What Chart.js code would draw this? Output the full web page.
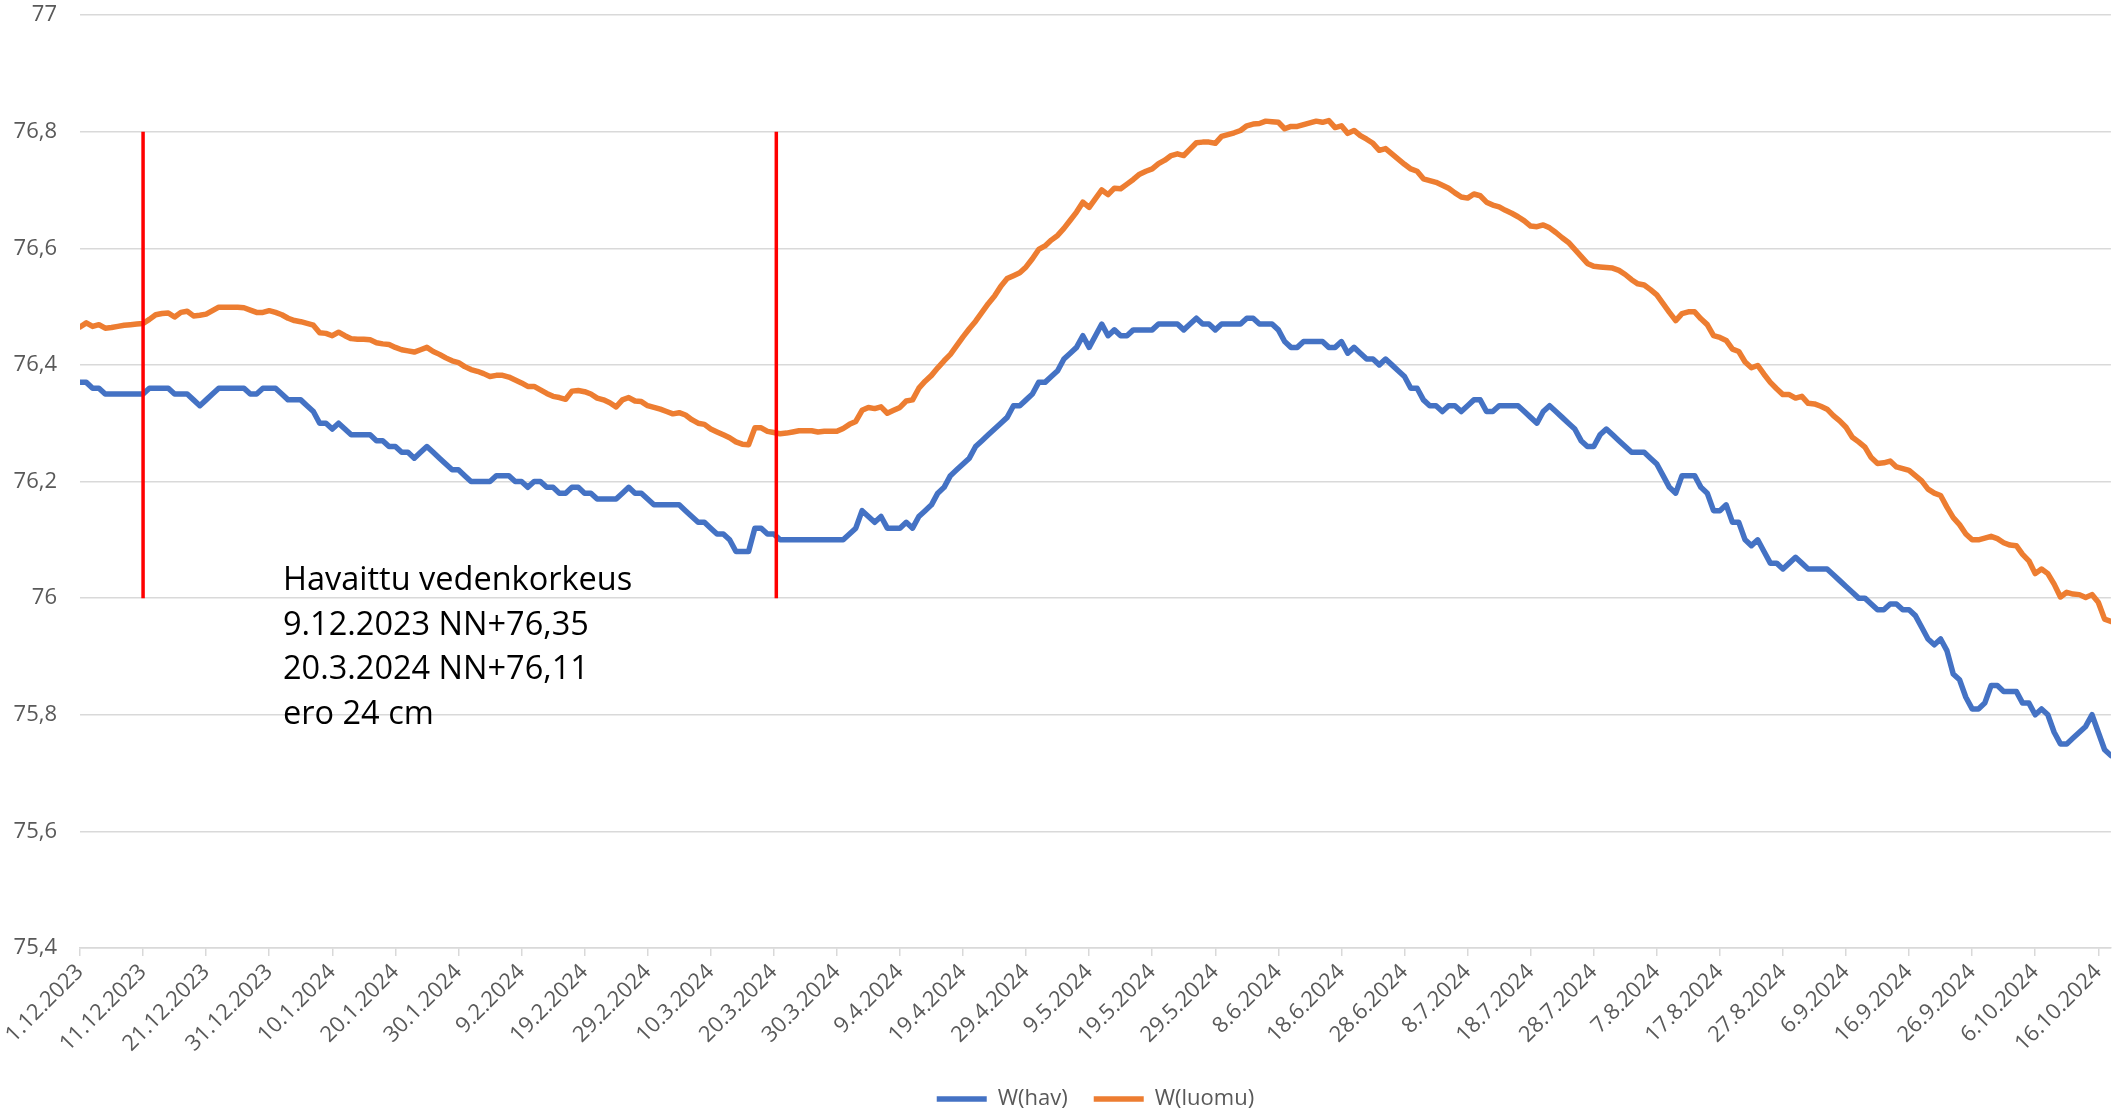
<!DOCTYPE html>
<html>
<head>
<meta charset="utf-8">
<script src="https://cdn.jsdelivr.net/npm/chart.js@4.4.1/dist/chart.umd.min.js"></script>
<style>
  html, body { margin: 0; padding: 0; background: #fff; }
  #wrap { width: 2120px; height: 1114px; }
</style>
</head>
<body>
<div id="wrap"><canvas id="chart" width="2120" height="1114"></canvas></div>
<script>
// Tick labels, one every 10 days starting 1.12.2023 (day 0)
const tickLabels = [
    "1.12.2023", "11.12.2023", "21.12.2023", "31.12.2023", "10.1.2024", "20.1.2024",
    "30.1.2024", "9.2.2024", "19.2.2024", "29.2.2024", "10.3.2024", "20.3.2024",
    "30.3.2024", "9.4.2024", "19.4.2024", "29.4.2024", "9.5.2024", "19.5.2024",
    "29.5.2024", "8.6.2024", "18.6.2024", "28.6.2024", "8.7.2024", "18.7.2024",
    "28.7.2024", "7.8.2024", "17.8.2024", "27.8.2024", "6.9.2024", "16.9.2024",
    "26.9.2024", "6.10.2024", "16.10.2024"
];

// W(hav) daily values, 1.12.2023 -> 18.10.2024
const havValues = [
    76.37, 76.37, 76.36, 76.36, 76.35, 76.35, 76.35, 76.35, 76.35, 76.35,
    76.35, 76.36, 76.36, 76.36, 76.36, 76.35, 76.35, 76.35, 76.34, 76.33,
    76.34, 76.35, 76.36, 76.36, 76.36, 76.36, 76.36, 76.35, 76.35, 76.36,
    76.36, 76.36, 76.35, 76.34, 76.34, 76.34, 76.33, 76.32, 76.30, 76.30,
    76.29, 76.30, 76.29, 76.28, 76.28, 76.28, 76.28, 76.27, 76.27, 76.26,
    76.26, 76.25, 76.25, 76.24, 76.25, 76.26, 76.25, 76.24, 76.23, 76.22,
    76.22, 76.21, 76.20, 76.20, 76.20, 76.20, 76.21, 76.21, 76.21, 76.20,
    76.20, 76.19, 76.20, 76.20, 76.19, 76.19, 76.18, 76.18, 76.19, 76.19,
    76.18, 76.18, 76.17, 76.17, 76.17, 76.17, 76.18, 76.19, 76.18, 76.18,
    76.17, 76.16, 76.16, 76.16, 76.16, 76.16, 76.15, 76.14, 76.13, 76.13,
    76.12, 76.11, 76.11, 76.10, 76.08, 76.08, 76.08, 76.12, 76.12, 76.11,
    76.11, 76.10, 76.10, 76.10, 76.10, 76.10, 76.10, 76.10, 76.10, 76.10,
    76.10, 76.10, 76.11, 76.12, 76.15, 76.14, 76.13, 76.14, 76.12, 76.12,
    76.12, 76.13, 76.12, 76.14, 76.15, 76.16, 76.18, 76.19, 76.21, 76.22,
    76.23, 76.24, 76.26, 76.27, 76.28, 76.29, 76.30, 76.31, 76.33, 76.33,
    76.34, 76.35, 76.37, 76.37, 76.38, 76.39, 76.41, 76.42, 76.43, 76.45,
    76.43, 76.45, 76.47, 76.45, 76.46, 76.45, 76.45, 76.46, 76.46, 76.46,
    76.46, 76.47, 76.47, 76.47, 76.47, 76.46, 76.47, 76.48, 76.47, 76.47,
    76.46, 76.47, 76.47, 76.47, 76.47, 76.48, 76.48, 76.47, 76.47, 76.47,
    76.46, 76.44, 76.43, 76.43, 76.44, 76.44, 76.44, 76.44, 76.43, 76.43,
    76.44, 76.42, 76.43, 76.42, 76.41, 76.41, 76.40, 76.41, 76.40, 76.39,
    76.38, 76.36, 76.36, 76.34, 76.33, 76.33, 76.32, 76.33, 76.33, 76.32,
    76.33, 76.34, 76.34, 76.32, 76.32, 76.33, 76.33, 76.33, 76.33, 76.32,
    76.31, 76.30, 76.32, 76.33, 76.32, 76.31, 76.30, 76.29, 76.27, 76.26,
    76.26, 76.28, 76.29, 76.28, 76.27, 76.26, 76.25, 76.25, 76.25, 76.24,
    76.23, 76.21, 76.19, 76.18, 76.21, 76.21, 76.21, 76.19, 76.18, 76.15,
    76.15, 76.16, 76.13, 76.13, 76.10, 76.09, 76.10, 76.08, 76.06, 76.06,
    76.05, 76.06, 76.07, 76.06, 76.05, 76.05, 76.05, 76.05, 76.04, 76.03,
    76.02, 76.01, 76.00, 76.00, 75.99, 75.98, 75.98, 75.99, 75.99, 75.98,
    75.98, 75.97, 75.95, 75.93, 75.92, 75.93, 75.91, 75.87, 75.86, 75.83,
    75.81, 75.81, 75.82, 75.85, 75.85, 75.84, 75.84, 75.84, 75.82, 75.82,
    75.80, 75.81, 75.80, 75.77, 75.75, 75.75, 75.76, 75.77, 75.78, 75.80,
    75.77, 75.74, 75.73
];

// W(luomu) daily values, same days
const luomuValues = [
    76.465, 76.472, 76.466, 76.469, 76.463, 76.464, 76.466, 76.468, 76.469, 76.470,
    76.471, 76.478, 76.486, 76.488, 76.489, 76.482, 76.490, 76.492, 76.484, 76.485,
    76.487, 76.493, 76.499, 76.499, 76.499, 76.499, 76.498, 76.494, 76.490, 76.490,
    76.493, 76.490, 76.486, 76.480, 76.476, 76.474, 76.471, 76.468, 76.455, 76.454,
    76.450, 76.456, 76.450, 76.445, 76.444, 76.444, 76.443, 76.438, 76.436, 76.435,
    76.430, 76.426, 76.424, 76.422, 76.426, 76.430, 76.423, 76.418, 76.412, 76.407,
    76.404, 76.397, 76.392, 76.389, 76.385, 76.380, 76.382, 76.382, 76.379, 76.374,
    76.369, 76.363, 76.363, 76.357, 76.351, 76.346, 76.344, 76.341, 76.355, 76.356,
    76.354, 76.350, 76.343, 76.340, 76.335, 76.328, 76.340, 76.344, 76.338, 76.337,
    76.330, 76.327, 76.324, 76.320, 76.316, 76.318, 76.314, 76.306, 76.300, 76.298,
    76.290, 76.285, 76.280, 76.275, 76.268, 76.264, 76.263, 76.292, 76.292, 76.286,
    76.284, 76.282, 76.283, 76.285, 76.287, 76.287, 76.287, 76.285, 76.286, 76.286,
    76.286, 76.291, 76.298, 76.303, 76.322, 76.327, 76.325, 76.328, 76.317, 76.322,
    76.327, 76.338, 76.340, 76.360, 76.372, 76.382, 76.395, 76.407, 76.418, 76.433,
    76.448, 76.462, 76.475, 76.490, 76.505, 76.518, 76.535, 76.548, 76.553, 76.558,
    76.568, 76.582, 76.598, 76.604, 76.614, 76.622, 76.634, 76.648, 76.662, 76.679,
    76.670, 76.685, 76.700, 76.692, 76.703, 76.702, 76.710, 76.718, 76.727, 76.732,
    76.736, 76.745, 76.751, 76.759, 76.762, 76.759, 76.770, 76.781, 76.782, 76.782,
    76.780, 76.792, 76.795, 76.798, 76.802, 76.810, 76.813, 76.814, 76.818, 76.817,
    76.816, 76.805, 76.809, 76.809, 76.812, 76.815, 76.818, 76.816, 76.819, 76.807,
    76.810, 76.797, 76.802, 76.793, 76.787, 76.780, 76.768, 76.771, 76.762, 76.753,
    76.744, 76.736, 76.732, 76.719, 76.716, 76.713, 76.708, 76.703, 76.695, 76.688,
    76.686, 76.693, 76.690, 76.679, 76.674, 76.671, 76.665, 76.660, 76.654, 76.647,
    76.638, 76.637, 76.640, 76.635, 76.627, 76.618, 76.610, 76.598, 76.586, 76.574,
    76.569, 76.568, 76.567, 76.566, 76.562, 76.555, 76.546, 76.539, 76.537, 76.529,
    76.520, 76.505, 76.490, 76.476, 76.488, 76.491, 76.491, 76.479, 76.469, 76.450,
    76.447, 76.442, 76.427, 76.423, 76.405, 76.395, 76.399, 76.384, 76.370, 76.359,
    76.349, 76.349, 76.343, 76.346, 76.334, 76.333, 76.329, 76.324, 76.313, 76.304,
    76.293, 76.276, 76.268, 76.259, 76.241, 76.231, 76.232, 76.235, 76.225, 76.222,
    76.219, 76.210, 76.201, 76.187, 76.180, 76.176, 76.156, 76.138, 76.126, 76.110,
    76.100, 76.100, 76.103, 76.106, 76.102, 76.095, 76.091, 76.090, 76.075, 76.064,
    76.042, 76.050, 76.042, 76.024, 76.002, 76.010, 76.007, 76.006, 76.001, 76.006,
    75.993, 75.964, 75.960
];

// red marker lines (day index) and their vertical range
const markerDays = [10, 110.4];
const markerRange = [76.0, 76.8];

const noteLines = [
    "Havaittu vedenkorkeus",
    "9.12.2023 NN+76,35",
    "20.3.2024 NN+76,11",
    "ero 24 cm"
];

const toPoints = vals => vals.map((v, i) => ({ x: i, y: v }));

const axisFont = { family: "'Open Sans', 'Noto Sans', sans-serif", size: 22 };
const gridColor = "#D9D9D9";
const labelColor = "#595959";

// free text box inside the plot
const notePlugin = {
    id: "note",
    afterDraw(chart) {
        const ctx = chart.ctx;
        const area = chart.chartArea;
        ctx.save();
        ctx.font = "32.5px 'Open Sans', 'Noto Sans', sans-serif";
        ctx.fillStyle = "#000";
        ctx.textAlign = "left";
        ctx.textBaseline = "alphabetic";
        noteLines.forEach((line, i) => {
            ctx.fillText(line, area.left + 203, area.top + 575 + i * 44.5);
        });
        ctx.restore();
    }
};

const markerSets = markerDays.map(d => ({
    label: "",
    data: [{ x: d, y: markerRange[1] }, { x: d, y: markerRange[0] }],
    borderColor: "#FF0000",
    borderWidth: 3.5,
    pointRadius: 0,
    order: -1
}));

const ctx = document.getElementById("chart").getContext("2d");
new Chart(ctx, {
    type: "line",
    data: {
        datasets: [
            {
                label: "W(hav)",
                data: toPoints(havValues),
                borderColor: "#4472C4",
                backgroundColor: "#4472C4",
                borderWidth: 5.5,
                borderCapStyle: "round",
                borderJoinStyle: "round",
                pointRadius: 0,
                tension: 0
            },
            {
                label: "W(luomu)",
                data: toPoints(luomuValues),
                borderColor: "#ED7D31",
                backgroundColor: "#ED7D31",
                borderWidth: 5.5,
                borderCapStyle: "round",
                borderJoinStyle: "round",
                pointRadius: 0,
                tension: 0
            },
            ...markerSets
        ]
    },
    options: {
        responsive: false,
        devicePixelRatio: 1,
        animation: false,
        layout: { padding: { top: 15, right: 6, left: 0, bottom: -6 } },
        plugins: {
            tooltip: { enabled: false },
            legend: {
                position: "bottom",
                fullSize: false, // centre the legend under the plot area
                labels: {
                    filter: item => item.datasetIndex < 2,
                    usePointStyle: true,
                    pointStyle: "line",
                    pointStyleWidth: 50,
                    color: labelColor,
                    font: axisFont,
                    padding: 26
                }
            }
        },
        scales: {
            x: {
                type: "linear",
                min: 0,
                max: havValues.length - 1,
                afterFit: scale => { scale.height = 114; },
                grid: {
                    drawOnChartArea: false,
                    drawTicks: true,
                    tickLength: 8,
                    color: gridColor,
                    lineWidth: 1.5
                },
                border: { display: true, color: gridColor, width: 1.5 },
                ticks: {
                    stepSize: 10,
                    includeBounds: false,
                    autoSkip: false,
                    minRotation: 45,
                    maxRotation: 45,
                    color: labelColor,
                    font: axisFont,
                    callback: v => tickLabels[Math.round(v / 10)] ?? ""
                }
            },
            y: {
                min: 75.4,
                max: 77,
                afterFit: scale => {
                    scale.width = 80;
                    scale.paddingTop = 0;
                    scale.paddingBottom = 0;
                },
                grid: { color: gridColor, lineWidth: 1.5, drawTicks: false },
                border: { display: false },
                ticks: {
                    stepSize: 0.2,
                    padding: 23,
                    color: labelColor,
                    font: axisFont,
                    callback: v => String(Math.round(v * 10) / 10).replace(".", ",")
                }
            }
        }
    },
    plugins: [notePlugin]
});
</script>
</body>
</html>
